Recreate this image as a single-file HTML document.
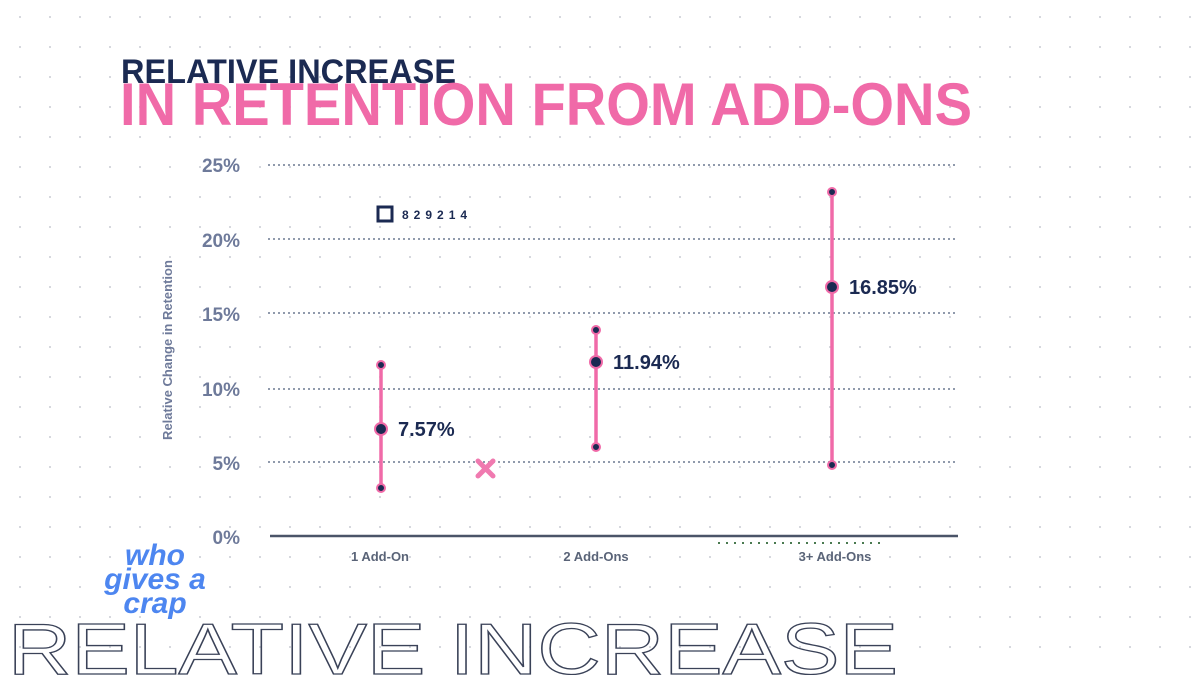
<!DOCTYPE html>
<html><head><style>
html,body{margin:0;width:1200px;height:675px;overflow:hidden;background:#fff;font-family:"Liberation Sans",sans-serif;}
svg{display:block}
</style></head><body>
<svg width="1200" height="675" xmlns="http://www.w3.org/2000/svg">
<defs><pattern id="d" width="30" height="30" patternUnits="userSpaceOnUse" x="5" y="2"><circle cx="15" cy="15" r="1" fill="#c9ccd4"/></pattern></defs>
<rect width="1200" height="675" fill="url(#d)"/>
<text x="121" y="83" font-size="34" font-weight="bold" fill="#1b2a52" textLength="335" lengthAdjust="spacingAndGlyphs">RELATIVE INCREASE</text>
<text x="120" y="125" font-size="60" font-weight="bold" fill="#f06aa8" textLength="852" lengthAdjust="spacingAndGlyphs">IN RETENTION FROM ADD-ONS</text>
<g stroke="#6b7890" stroke-width="1.5" stroke-dasharray="2,3">
<line x1="268" y1="165" x2="956" y2="165"/><line x1="268" y1="239" x2="956" y2="239"/>
<line x1="268" y1="313" x2="956" y2="313"/><line x1="268" y1="389" x2="956" y2="389"/>
<line x1="268" y1="462" x2="956" y2="462"/></g>
<line x1="270" y1="536" x2="958" y2="536" stroke="#4a5468" stroke-width="2.5"/>
<line x1="718" y1="543" x2="880" y2="543" stroke="#4a7a50" stroke-width="2" stroke-dasharray="2,6"/>
<g font-size="19" font-weight="bold" fill="#6e7a9a" text-anchor="end">
<text x="240" y="172">25%</text><text x="240" y="247">20%</text><text x="240" y="321">15%</text>
<text x="240" y="396">10%</text><text x="240" y="470">5%</text><text x="240" y="544">0%</text></g>
<text transform="translate(172,350) rotate(-90)" font-size="13" font-weight="bold" fill="#6e7a9a" text-anchor="middle">Relative Change in Retention</text>
<g font-size="13" font-weight="bold" fill="#5a6478" text-anchor="middle">
<text x="380" y="561">1 Add-On</text><text x="596" y="561">2 Add-Ons</text><text x="835" y="561">3+ Add-Ons</text></g>
<rect x="378" y="207" width="14" height="14" fill="none" stroke="#1b2a52" stroke-width="3"/>
<text x="402" y="219" font-size="12" font-weight="bold" fill="#1b2a52" letter-spacing="5">829214</text>
<g stroke="#f06aa8" stroke-width="3.5">
<line x1="381" y1="365" x2="381" y2="488"/><line x1="596" y1="330" x2="596" y2="447"/><line x1="832" y1="192" x2="832" y2="465"/></g>
<g fill="#1b2a52" stroke="#f06aa8" stroke-width="2">
<circle cx="381" cy="365" r="4"/><circle cx="381" cy="488" r="4"/><circle cx="381" cy="429" r="6"/>
<circle cx="596" cy="330" r="4"/><circle cx="596" cy="447" r="4"/><circle cx="596" cy="362" r="6"/>
<circle cx="832" cy="192" r="4"/><circle cx="832" cy="465" r="4"/><circle cx="832" cy="287" r="6"/></g>
<g font-size="20" font-weight="bold" fill="#1b2a52">
<text x="398" y="436">7.57%</text><text x="613" y="369">11.94%</text><text x="849" y="294">16.85%</text></g>
<g stroke="#f07ab0" stroke-width="5" stroke-linecap="round"><line x1="478" y1="461" x2="493" y2="476"/><line x1="493" y1="461" x2="478" y2="476"/></g>
<g font-size="30" font-weight="bold" font-style="italic" fill="#4d86f0" text-anchor="middle">
<text x="155" y="565">who</text><text x="155" y="589">gives a</text><text x="155" y="613">crap</text></g>
<text x="8" y="674" font-size="72" fill="none" stroke="#3a4258" stroke-width="1.3" textLength="890" lengthAdjust="spacingAndGlyphs">RELATIVE INCREASE</text>
</svg>
</body></html>
